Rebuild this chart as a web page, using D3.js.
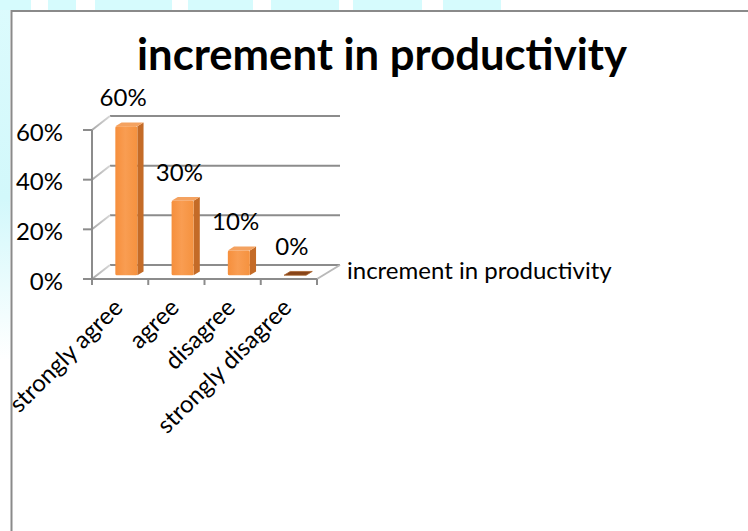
<!DOCTYPE html>
<html>
<head>
<meta charset="utf-8">
<script src="https://cdn.jsdelivr.net/npm/d3@7"></script>
<style>
  html, body { margin: 0; padding: 0; background: #fff; }
  svg { display: block; }
  text { font-family: Lato, "Open Sans", sans-serif; fill: #000; }
</style>
</head>
<body>
<svg id="chart" width="748" height="531"></svg>
<script>
// Survey answers and their shares
const categories = ["strongly agree", "agree", "disagree", "strongly disagree"];
const values = [0.6, 0.3, 0.1, 0.0];
const valueLabels = ["60%", "30%", "10%", "0%"];
const yTicks = [0, 0.2, 0.4, 0.6];
const yTickLabels = ["0%", "20%", "40%", "60%"];
const seriesName = "increment in productivity";
const chartTitle = "increment in productivity";

// Page watermark strips behind the chart frame
const stripSegments = [[0, 31], [48, 76], [95, 172], [188, 253], [271, 339], [353, 422], [443, 501]];

const svg = d3.select("#chart");
const defs = svg.append("defs");

const leftFade = defs.append("linearGradient").attr("id", "leftFade")
  .attr("x1", 0).attr("y1", 0).attr("x2", 0).attr("y2", 1);
leftFade.append("stop").attr("offset", "0%").attr("stop-color", "#dcfbfd");
leftFade.append("stop").attr("offset", "55%").attr("stop-color", "#d2f8fb");
leftFade.append("stop").attr("offset", "100%").attr("stop-color", "#ffffff");

const frontGrad = defs.append("linearGradient").attr("id", "barFront")
  .attr("x1", 0).attr("y1", 0).attr("x2", 1).attr("y2", 0);
frontGrad.append("stop").attr("offset", "0%").attr("stop-color", "#f68f3c");
frontGrad.append("stop").attr("offset", "45%").attr("stop-color", "#f99d52");
frontGrad.append("stop").attr("offset", "100%").attr("stop-color", "#f5923f");

const wallGrad = defs.append("linearGradient").attr("id", "wallLine")
  .attr("x1", 0).attr("y1", 0).attr("x2", 1).attr("y2", 0);
wallGrad.append("stop").attr("offset", "0%").attr("stop-color", "#a8a8a8");
wallGrad.append("stop").attr("offset", "100%").attr("stop-color", "#d8d8d8");

// background strips
svg.append("rect").attr("x", 0).attr("y", 0).attr("width", 10).attr("height", 360)
  .attr("fill", "url(#leftFade)");
svg.selectAll("rect.strip").data(stripSegments).join("rect")
  .attr("class", "strip")
  .attr("x", d => d[0]).attr("y", 0)
  .attr("width", d => d[1] - d[0]).attr("height", 10)
  .attr("fill", "#d6fbfd");

// chart frame (runs past the right and bottom edges)
svg.append("rect")
  .attr("x", 11.5).attr("y", 11).attr("width", 760).attr("height", 540)
  .attr("fill", "#fff").attr("stroke", "#8a8a8a").attr("stroke-width", 2);

// 3D plot geometry: front plane plus a depth offset for the back wall
const depthL = { dx: 18, dy: -14 };
const depthR = { dx: 23, dy: -14 };
const barDepth = { start: 0.27, size: 0.27 };

const x = d3.scaleBand().domain(categories).range([92, 317]).paddingInner(0).paddingOuter(0);
const y = d3.scaleLinear().domain([0, 0.6]).range([279, 130]);
const barW = 22;

const grid = svg.append("g");
// back wall gridlines
grid.selectAll("line.back").data(yTicks).join("line")
  .attr("x1", 92 + depthL.dx).attr("x2", 317 + depthR.dx)
  .attr("y1", d => y(d) + depthL.dy).attr("y2", d => y(d) + depthR.dy)
  .attr("stroke", "#8c8c8c").attr("stroke-width", 2);
// side wall diagonals
grid.selectAll("line.side").data(yTicks).join("line")
  .attr("x1", 92).attr("y1", d => y(d))
  .attr("x2", 92 + depthL.dx).attr("y2", d => y(d) + depthL.dy)
  .attr("stroke", "url(#wallLine)").attr("stroke-width", 2);
// floor right edge
grid.append("line")
  .attr("x1", 317).attr("y1", y(0)).attr("x2", 317 + depthR.dx).attr("y2", y(0) + depthR.dy)
  .attr("stroke", "#b9b9b9").attr("stroke-width", 2);

// value axis
const yAxis = svg.append("g");
yAxis.append("line").attr("x1", 92).attr("x2", 92)
  .attr("y1", y(0.6)).attr("y2", y(0)).attr("stroke", "#8c8c8c").attr("stroke-width", 2);
yAxis.selectAll("line.tick").data(yTicks).join("line")
  .attr("x1", 83).attr("x2", 92).attr("y1", d => y(d)).attr("y2", d => y(d))
  .attr("stroke", "#8c8c8c").attr("stroke-width", 2);
yAxis.selectAll("text").data(yTicks).join("text")
  .attr("x", 63).attr("y", d => y(d) + 10.5)
  .attr("text-anchor", "end")
  .attr("font-size", 24)
  .text((d, i) => yTickLabels[i]);

// category axis (front floor edge)
const xAxis = svg.append("g");
xAxis.append("line").attr("x1", 92).attr("x2", 317).attr("y1", y(0)).attr("y2", y(0))
  .attr("stroke", "#8c8c8c").attr("stroke-width", 2);
const bounds = categories.map(c => x(c)).concat([x.range()[1]]);
xAxis.selectAll("line.tick").data(bounds).join("line")
  .attr("x1", d => d).attr("x2", d => d).attr("y1", y(0)).attr("y2", y(0) + 6)
  .attr("stroke", "#8c8c8c").attr("stroke-width", 2);
xAxis.selectAll("text").data(categories).join("text")
  .attr("transform", d => `translate(${x(d) + x.bandwidth() / 2 + 4},${309}) rotate(-45)`)
  .attr("text-anchor", "end")
  .attr("font-size", 24)
  .text(d => d);

// bars, drawn as boxes sitting part way into the depth
const off0 = { dx: depthR.dx * barDepth.start, dy: depthR.dy * barDepth.start };
const offD = { dx: depthR.dx * barDepth.size, dy: depthR.dy * barDepth.size };

const bars = svg.append("g").selectAll("g").data(categories).join("g");
bars.each(function (c, i) {
  const g = d3.select(this);
  const v = values[i];
  const x0 = x(c) + (x.bandwidth() - barW) / 2 + off0.dx;
  const x1 = x0 + barW;
  const yb = y(0) + off0.dy;
  const yt = y(v) + off0.dy;
  if (v > 0) {
    // side face
    g.append("path")
      .attr("d", `M${x1},${yt} L${x1 + offD.dx},${yt + offD.dy} L${x1 + offD.dx},${yb + offD.dy} L${x1},${yb} Z`)
      .attr("fill", "#c46b27");
    // top face
    g.append("path")
      .attr("d", `M${x0},${yt} L${x0 + offD.dx},${yt + offD.dy} L${x1 + offD.dx},${yt + offD.dy} L${x1},${yt} Z`)
      .attr("fill", "#f4a260");
    // front face
    g.append("rect")
      .attr("x", x0).attr("y", yt).attr("width", barW).attr("height", yb - yt)
      .attr("rx", 1.5)
      .attr("fill", "url(#barFront)");
  } else {
    // zero-height bar shows only its top face
    g.append("path")
      .attr("d", `M${x0},${yt} L${x0 + offD.dx},${yt + offD.dy} L${x1 + offD.dx},${yt + offD.dy} L${x1},${yt} Z`)
      .attr("fill", "#874318").attr("stroke", "#a8632d").attr("stroke-width", 0.8);
  }
});

// data labels
svg.append("g").selectAll("text").data(categories).join("text")
  .attr("x", c => x(c) + x.bandwidth() / 2 + 3)
  .attr("y", (c, i) => y(values[i]) + off0.dy - 20)
  .attr("text-anchor", "middle")
  .attr("font-size", 24)
  .text((c, i) => valueLabels[i]);

// legend
svg.append("text")
  .attr("x", 347).attr("y", 279)
  .attr("font-size", 24)
  .text(seriesName);

// title
const title = svg.append("text")
  .attr("x", 382).attr("y", 70)
  .attr("text-anchor", "middle")
  .attr("font-size", 46).attr("font-weight", "bold")
  .text(chartTitle);

// scale fonts so rendered widths follow the layout
function fitTo(sel, width) {
  const node = sel.node();
  const fs = parseFloat(sel.attr("font-size"));
  const w = node.getComputedTextLength();
  sel.attr("font-size", (fs * width / w).toFixed(2));
}
fitTo(title, 490);
</script>
</body>
</html>
